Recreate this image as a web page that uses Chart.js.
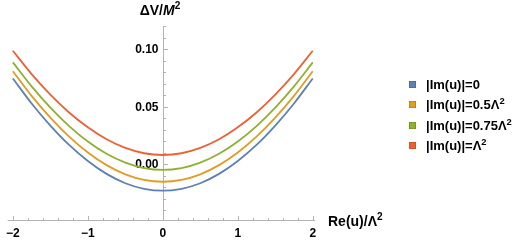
<!DOCTYPE html>
<html><head><meta charset="utf-8">
<script src="https://cdn.jsdelivr.net/npm/chart.js@4"></script>
<style>
html,body{margin:0;padding:0;background:#fff;}
#wrap{position:relative;width:527px;height:242px;overflow:hidden;}
canvas{position:absolute;left:0;top:0;}
.t{position:absolute;font-family:"Liberation Sans",Arial,sans-serif;font-weight:bold;color:#000;white-space:nowrap;line-height:1;}
.t sup{font-size:72%;line-height:0;vertical-align:super;}
.leg{position:absolute;left:409px;font-family:"Liberation Sans",Arial,sans-serif;font-weight:bold;font-size:13px;color:#000;white-space:nowrap;line-height:14px;height:14px;}
.leg span.sw{display:inline-block;width:7px;height:7px;margin-right:10px;vertical-align:middle;position:relative;top:-1px;}
.leg sup{font-size:72%;line-height:0;vertical-align:super;}
</style></head><body>
<div id="wrap">
<canvas id="c" width="527" height="242"></canvas>
<div class="t" id="ytitle" style="font-size:14px;left:160px;top:3px;transform:translateX(-50%);">ΔV/<i>M</i><sup>2</sup></div>
<div class="t" id="xtitle" style="font-size:14px;left:328px;top:214px;">Re(u)/Λ<sup>2</sup></div>
<div id="legend"></div>
</div>
<script>
// ---- data ----
const xValues = [-2, -1.75, -1.5, -1.25, -1, -0.75, -0.5, -0.25, 0, 0.25, 0.5, 0.75, 1, 1.25, 1.5, 1.75, 2];
const im0   = [0.0745, 0.0528, 0.0336, 0.0168, 0.0029, -0.0083, -0.0164, -0.0212, -0.0229, -0.0212, -0.0164, -0.0083, 0.0029, 0.0168, 0.0336, 0.0528, 0.0745];
const im05  = [0.0808, 0.0594, 0.0405, 0.0240, 0.0103, -0.0007, -0.0087, -0.0135, -0.0151, -0.0135, -0.0087, -0.0007, 0.0103, 0.0240, 0.0405, 0.0594, 0.0808];
const im075 = [0.0884, 0.0676, 0.0492, 0.0332, 0.0198, 0.0091, 0.0014, -0.0033, -0.0049, -0.0033, 0.0014, 0.0091, 0.0198, 0.0332, 0.0492, 0.0676, 0.0884];
const im1   = [0.0985, 0.0783, 0.0605, 0.0450, 0.0321, 0.0217, 0.0142, 0.0096, 0.0081, 0.0096, 0.0142, 0.0217, 0.0321, 0.0450, 0.0605, 0.0783, 0.0985];
const seriesNames = ['|Im(u)|=0', '|Im(u)|=0.5Λ<sup>2</sup>', '|Im(u)|=0.75Λ<sup>2</sup>', '|Im(u)|=Λ<sup>2</sup>'];
const seriesColors = ['#5E81B5', '#E19C24', '#8FB032', '#EB6235'];
const xTicks = [-2, -1, 0, 1, 2];
const xTickLabels = ['\u22122', '\u22121', '0', '1', '2'];
const yTicks = [0, 0.05, 0.10];
const yTickLabels = ['0.00', '0.05', '0.10'];
const xMinorStep = 0.2;
const yMinorStep = 0.01;

const allSeries = [im0, im05, im075, im1];
const FONT = '"Liberation Sans", Arial, sans-serif';
const AXIS_COLOR = '#b3b3b3';
const Y_MIN = -0.0483;

const axesPlugin = {
  id: 'mmaAxes',
  beforeDatasetsDraw(chart) {
    const {ctx, chartArea: a, scales: {x, y}} = chart;
    ctx.save();
    ctx.strokeStyle = AXIS_COLOR;
    ctx.lineWidth = 1;
    const y0 = Math.round(y.getPixelForValue(Y_MIN)) + 0.5;
    const x0 = Math.round(x.getPixelForValue(0)) + 0.5;
    ctx.beginPath();
    ctx.moveTo(a.left, y0); ctx.lineTo(a.right, y0);
    ctx.moveTo(x0, a.top); ctx.lineTo(x0, y0);
    for (let i = -11; i <= 11; i++) {
      const v = i * xMinorStep;
      if (v < x.min || v > x.max) continue;
      const px = Math.round(x.getPixelForValue(v)) + 0.5;
      const major = i % 5 === 0;
      ctx.moveTo(px, y0); ctx.lineTo(px, y0 - (major ? 4.5 : 2.5));
    }
    for (let i = -5; i <= 12; i++) {
      const v = i * yMinorStep;
      if (v < y.min || v > y.max + 1e-9) continue;
      const py = Math.round(y.getPixelForValue(v)) + 0.5;
      const major = i % 5 === 0;
      ctx.moveTo(x0, py); ctx.lineTo(x0 + (major ? 4.5 : 2.5), py);
    }
    ctx.stroke();
    // y tick labels, from the y scale's ticks
    ctx.fillStyle = '#000';
    ctx.font = 'bold 12px ' + FONT;
    ctx.textAlign = 'right';
    ctx.textBaseline = 'middle';
    y.ticks.forEach((t, i) => {
      ctx.fillText(yTickLabels[i], x0 - 5, y.getPixelForValue(t.value) + 0.5);
    });
    ctx.restore();
  }
};

const chart = new Chart(document.getElementById('c'), {
  type: 'line',
  data: {
    datasets: allSeries.map((s, i) => ({
      label: seriesNames[i].replace(/<sup>2<\/sup>/g, '²'),
      data: xValues.map((xv, j) => ({x: xv, y: s[j]})),
      borderColor: seriesColors[i],
      backgroundColor: seriesColors[i],
      borderWidth: 1.8,
      pointRadius: 0,
      cubicInterpolationMode: 'monotone',
      fill: false
    }))
  },
  options: {
    responsive: false,
    animation: false,
    layout: {autoPadding: false, padding: {left: 2, top: 26, right: 212, bottom: 22}},
    plugins: {legend: {display: false}, tooltip: {enabled: false}},
    scales: {
      x: {
        type: 'linear', min: -2.07, max: 2.03, position: {y: Y_MIN},
        grid: {display: false, drawTicks: false}, border: {display: false},
        afterBuildTicks: s => { s.ticks = xTicks.map(v => ({value: v})); },
        ticks: {padding: 6, color: '#000', font: {family: FONT, size: 12, weight: 'bold'},
          autoSkip: false, maxRotation: 0,
          callback: (v) => xTickLabels[xTicks.indexOf(v)] ?? ''}
      },
      y: {
        type: 'linear', min: Y_MIN, max: 0.12, position: {x: 0},
        grid: {display: false, drawTicks: false}, border: {display: false},
        afterBuildTicks: s => { s.ticks = yTicks.map(v => ({value: v})); },
        ticks: {display: false}
      }
    }
  },
  plugins: [axesPlugin]
});

const legendTops = [77.5, 98, 118.5, 139];
const lg = document.getElementById('legend');
seriesNames.forEach((n, i) => {
  const d = document.createElement('div');
  d.className = 'leg';
  d.style.top = legendTops[i] + 'px';
  d.innerHTML = '<span class="sw" style="background:' + seriesColors[i] + ';box-shadow:inset 0 0 0 0.6px rgba(0,0,0,0.25)"></span>' + n;
  lg.appendChild(d);
});
</script>
</body></html>
